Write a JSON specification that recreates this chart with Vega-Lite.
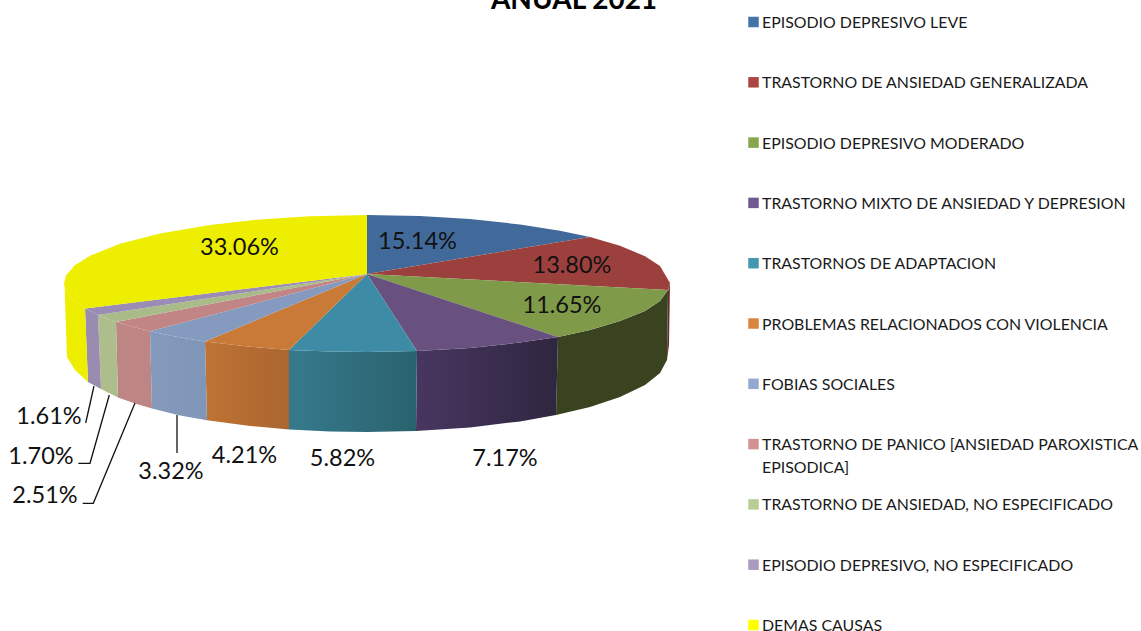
{
"$schema":"https://vega.github.io/schema/vega-lite/v6.json",
"width":1141,"height":631,"padding":0,"autosize":{"type":"none"},"background":"white",
"config":{"view":{"stroke":null}},
"datasets":{
"heading":[{"label":"ANUAL 2021","x":574,"y":9}],
"causes":[
{"name":"EPISODIO DEPRESIVO LEVE","share":0.1514,"lx":417.5,"ly":242},
{"name":"TRASTORNO DE ANSIEDAD GENERALIZADA","share":0.1380,"lx":572,"ly":266},
{"name":"EPISODIO DEPRESIVO MODERADO","share":0.1165,"lx":562,"ly":306},
{"name":"TRASTORNO MIXTO DE ANSIEDAD Y DEPRESION","share":0.0717,"lx":505,"ly":459},
{"name":"TRASTORNOS DE ADAPTACION","share":0.0582,"lx":342.5,"ly":459},
{"name":"PROBLEMAS RELACIONADOS CON VIOLENCIA","share":0.0421,"lx":244.5,"ly":456},
{"name":"FOBIAS SOCIALES","share":0.0332,"lx":171,"ly":472},
{"name":"TRASTORNO DE PANICO [ANSIEDAD PAROXISTICA\nEPISODICA]","share":0.0251,"lx":45,"ly":496},
{"name":"TRASTORNO DE ANSIEDAD, NO ESPECIFICADO","share":0.0170,"lx":41,"ly":457},
{"name":"EPISODIO DEPRESIVO, NO ESPECIFICADO","share":0.0161,"lx":49,"ly":417},
{"name":"DEMAS CAUSAS","share":0.3306,"lx":239.5,"ly":248}
],
"tops":[
{"slice":"leve","i":0,"x":367,"y":274},{"slice":"leve","i":1,"x":367,"y":215},{"slice":"leve","i":2,"x":420,"y":216.1},{"slice":"leve","i":3,"x":470,"y":219.1},{"slice":"leve","i":4,"x":520,"y":224.4},{"slice":"leve","i":5,"x":560,"y":230.7},{"slice":"leve","i":6,"x":590,"y":237},
{"slice":"generalizada","i":0,"x":367,"y":274},{"slice":"generalizada","i":1,"x":590,"y":237},{"slice":"generalizada","i":2,"x":620,"y":245.8},{"slice":"generalizada","i":3,"x":645,"y":256.2},{"slice":"generalizada","i":4,"x":660,"y":266},{"slice":"generalizada","i":5,"x":670,"y":283},{"slice":"generalizada","i":6,"x":668,"y":290},
{"slice":"moderado","i":0,"x":367,"y":274},{"slice":"moderado","i":1,"x":668,"y":290},{"slice":"moderado","i":2,"x":660,"y":301},{"slice":"moderado","i":3,"x":645,"y":311},{"slice":"moderado","i":4,"x":620,"y":321},{"slice":"moderado","i":5,"x":590,"y":330},{"slice":"moderado","i":6,"x":558,"y":337},
{"slice":"mixto","i":0,"x":367,"y":274},{"slice":"mixto","i":1,"x":558,"y":337},{"slice":"mixto","i":2,"x":520,"y":342.6},{"slice":"mixto","i":3,"x":470,"y":347.9},{"slice":"mixto","i":4,"x":417,"y":351},
{"slice":"adaptacion","i":0,"x":367,"y":274},{"slice":"adaptacion","i":1,"x":417,"y":351},{"slice":"adaptacion","i":2,"x":367,"y":352},{"slice":"adaptacion","i":3,"x":330,"y":351.5},{"slice":"adaptacion","i":4,"x":289,"y":350},
{"slice":"violencia","i":0,"x":367,"y":274},{"slice":"violencia","i":1,"x":289,"y":350},{"slice":"violencia","i":2,"x":250,"y":346.7},{"slice":"violencia","i":3,"x":205,"y":341.5},
{"slice":"fobias","i":0,"x":367,"y":274},{"slice":"fobias","i":1,"x":205,"y":341.5},{"slice":"fobias","i":2,"x":175,"y":336.5},{"slice":"fobias","i":3,"x":150,"y":331.3},
{"slice":"panico","i":0,"x":367,"y":274},{"slice":"panico","i":1,"x":150,"y":331.3},{"slice":"panico","i":2,"x":130,"y":326},{"slice":"panico","i":3,"x":116,"y":322},
{"slice":"ansiedad","i":0,"x":367,"y":274},{"slice":"ansiedad","i":1,"x":116,"y":322},{"slice":"ansiedad","i":2,"x":98,"y":315},
{"slice":"depresivo","i":0,"x":367,"y":274},{"slice":"depresivo","i":1,"x":98,"y":315},{"slice":"depresivo","i":2,"x":85,"y":308.5},
{"slice":"demas","i":0,"x":367,"y":274},{"slice":"demas","i":1,"x":85,"y":308.5},{"slice":"demas","i":2,"x":75,"y":301.8},{"slice":"demas","i":3,"x":66,"y":291.4},{"slice":"demas","i":4,"x":64,"y":283.5},{"slice":"demas","i":5,"x":66,"y":275.6},{"slice":"demas","i":6,"x":75,"y":265.2},{"slice":"demas","i":7,"x":90,"y":255.8},{"slice":"demas","i":8,"x":120,"y":243.8},{"slice":"demas","i":9,"x":160,"y":233.5},{"slice":"demas","i":10,"x":210,"y":224.9},{"slice":"demas","i":11,"x":260,"y":219.4},{"slice":"demas","i":12,"x":310,"y":216.2},{"slice":"demas","i":13,"x":367,"y":215}
],
"sides":[
{"slice":"generalizada","i":0,"x":670,"y":283},{"slice":"generalizada","i":1,"x":668,"y":291},{"slice":"generalizada","i":2,"x":667,"y":360},{"slice":"generalizada","i":3,"x":669,"y":345},
{"slice":"moderado","i":0,"x":668,"y":290},{"slice":"moderado","i":1,"x":660,"y":301},{"slice":"moderado","i":2,"x":645,"y":311},{"slice":"moderado","i":3,"x":620,"y":321},{"slice":"moderado","i":4,"x":590,"y":330},{"slice":"moderado","i":5,"x":558,"y":337},{"slice":"moderado","i":6,"x":556,"y":415},{"slice":"moderado","i":7,"x":590,"y":406.9},{"slice":"moderado","i":8,"x":620,"y":397},{"slice":"moderado","i":9,"x":645,"y":384.9},{"slice":"moderado","i":10,"x":660,"y":372.9},{"slice":"moderado","i":11,"x":667,"y":360},
{"slice":"mixto","i":0,"x":558,"y":337},{"slice":"mixto","i":1,"x":520,"y":342.6},{"slice":"mixto","i":2,"x":470,"y":347.9},{"slice":"mixto","i":3,"x":417,"y":351},{"slice":"mixto","i":4,"x":416,"y":431},{"slice":"mixto","i":5,"x":470,"y":427.4},{"slice":"mixto","i":6,"x":520,"y":421.4},{"slice":"mixto","i":7,"x":556,"y":415},
{"slice":"adaptacion","i":0,"x":417,"y":351},{"slice":"adaptacion","i":1,"x":367,"y":352},{"slice":"adaptacion","i":2,"x":330,"y":351.5},{"slice":"adaptacion","i":3,"x":289,"y":350},{"slice":"adaptacion","i":4,"x":289,"y":429.4},{"slice":"adaptacion","i":5,"x":330,"y":431.4},{"slice":"adaptacion","i":6,"x":367,"y":432},{"slice":"adaptacion","i":7,"x":416,"y":431},
{"slice":"violencia","i":0,"x":289,"y":350},{"slice":"violencia","i":1,"x":250,"y":346.7},{"slice":"violencia","i":2,"x":205,"y":341.5},{"slice":"violencia","i":3,"x":207,"y":420.3},{"slice":"violencia","i":4,"x":250,"y":426},{"slice":"violencia","i":5,"x":289,"y":429.4},
{"slice":"fobias","i":0,"x":205,"y":341.5},{"slice":"fobias","i":1,"x":175,"y":336.5},{"slice":"fobias","i":2,"x":150,"y":331.3},{"slice":"fobias","i":3,"x":152,"y":408.5},{"slice":"fobias","i":4,"x":180,"y":415.5},{"slice":"fobias","i":5,"x":207,"y":420.3},
{"slice":"panico","i":0,"x":150,"y":331.3},{"slice":"panico","i":1,"x":130,"y":326},{"slice":"panico","i":2,"x":116,"y":322},{"slice":"panico","i":3,"x":118,"y":397.5},{"slice":"panico","i":4,"x":135,"y":403.5},{"slice":"panico","i":5,"x":152,"y":408.5},
{"slice":"ansiedad","i":0,"x":116,"y":322},{"slice":"ansiedad","i":1,"x":98,"y":315},{"slice":"ansiedad","i":2,"x":101,"y":389},{"slice":"ansiedad","i":3,"x":118,"y":397.5},
{"slice":"depresivo","i":0,"x":98,"y":315},{"slice":"depresivo","i":1,"x":85,"y":308.5},{"slice":"depresivo","i":2,"x":88,"y":382},{"slice":"depresivo","i":3,"x":101,"y":389},
{"slice":"demas","i":0,"x":85,"y":308.5},{"slice":"demas","i":1,"x":75,"y":301.8},{"slice":"demas","i":2,"x":66,"y":291.4},{"slice":"demas","i":3,"x":64.5,"y":285},{"slice":"demas","i":4,"x":67,"y":357},{"slice":"demas","i":5,"x":75,"y":370},{"slice":"demas","i":6,"x":88,"y":382}
],
"leaders":[
{"share":"1.61%","i":0,"x":94,"y":386},{"share":"1.61%","i":1,"x":85.7,"y":423},
{"share":"1.70%","i":0,"x":109.3,"y":395},{"share":"1.70%","i":1,"x":90,"y":463.3},{"share":"1.70%","i":2,"x":78.3,"y":463.3},
{"share":"2.51%","i":0,"x":135,"y":403},{"share":"2.51%","i":1,"x":93.3,"y":503.3},{"share":"2.51%","i":2,"x":82.7,"y":503.3},
{"share":"3.32%","i":0,"x":177,"y":415},{"share":"3.32%","i":1,"x":177,"y":453}
]
},
"layer":[
{"data":{"name":"sides"},
"transform":[{"filter":{"field":"slice","oneOf":["generalizada","moderado","panico","ansiedad","depresivo","demas"]}}],
"mark":{"type":"line","filled":true},
"encoding":{
"x":{"field":"x","type":"quantitative","scale":{"domain":[0,1141],"range":[0,1141],"nice":false,"zero":false},"axis":null},
"y":{"field":"y","type":"quantitative","scale":{"domain":[0,631],"range":[0,631],"nice":false,"zero":false},"axis":null},
"order":{"field":"i"},
"detail":{"field":"slice"},
"fill":{"field":"slice","type":"nominal","legend":null,"scale":{"domain":["generalizada","moderado","panico","ansiedad","depresivo","demas"],"range":["#6a2c2a","#39431f","#bd8584","#aebd8c","#9a8cb0","#eeee00"]}}
}},
{"data":{"name":"sides"},
"transform":[{"filter":{"field":"slice","equal":"mixto"}}],
"mark":{"type":"line","filled":true,"fill":{"gradient":"linear","x1":0,"y1":0,"x2":1,"y2":0,"stops":[{"offset":0,"color":"#483660"},{"offset":1,"color":"#2f263f"}]}},
"encoding":{
"x":{"field":"x","type":"quantitative","scale":{"domain":[0,1141],"range":[0,1141],"nice":false,"zero":false},"axis":null},
"y":{"field":"y","type":"quantitative","scale":{"domain":[0,631],"range":[0,631],"nice":false,"zero":false},"axis":null},
"order":{"field":"i"}
}},
{"data":{"name":"sides"},
"transform":[{"filter":{"field":"slice","equal":"adaptacion"}}],
"mark":{"type":"line","filled":true,"fill":{"gradient":"linear","x1":0,"y1":0,"x2":1,"y2":0,"stops":[{"offset":0,"color":"#357a8c"},{"offset":1,"color":"#2a626e"}]}},
"encoding":{
"x":{"field":"x","type":"quantitative","scale":{"domain":[0,1141],"range":[0,1141],"nice":false,"zero":false},"axis":null},
"y":{"field":"y","type":"quantitative","scale":{"domain":[0,631],"range":[0,631],"nice":false,"zero":false},"axis":null},
"order":{"field":"i"}
}},
{"data":{"name":"sides"},
"transform":[{"filter":{"field":"slice","equal":"violencia"}}],
"mark":{"type":"line","filled":true,"fill":{"gradient":"linear","x1":0,"y1":0,"x2":1,"y2":0,"stops":[{"offset":0,"color":"#bf7434"},{"offset":1,"color":"#ab652f"}]}},
"encoding":{
"x":{"field":"x","type":"quantitative","scale":{"domain":[0,1141],"range":[0,1141],"nice":false,"zero":false},"axis":null},
"y":{"field":"y","type":"quantitative","scale":{"domain":[0,631],"range":[0,631],"nice":false,"zero":false},"axis":null},
"order":{"field":"i"}
}},
{"data":{"name":"sides"},
"transform":[{"filter":{"field":"slice","equal":"fobias"}}],
"mark":{"type":"line","filled":true,"fill":{"gradient":"linear","x1":0,"y1":0,"x2":1,"y2":0,"stops":[{"offset":0,"color":"#8499bb"},{"offset":1,"color":"#7f96b8"}]}},
"encoding":{
"x":{"field":"x","type":"quantitative","scale":{"domain":[0,1141],"range":[0,1141],"nice":false,"zero":false},"axis":null},
"y":{"field":"y","type":"quantitative","scale":{"domain":[0,631],"range":[0,631],"nice":false,"zero":false},"axis":null},
"order":{"field":"i"}
}},
{"data":{"name":"tops"},
"mark":{"type":"line","filled":true},
"encoding":{
"x":{"field":"x","type":"quantitative","scale":{"domain":[0,1141],"range":[0,1141],"nice":false,"zero":false},"axis":null},
"y":{"field":"y","type":"quantitative","scale":{"domain":[0,631],"range":[0,631],"nice":false,"zero":false},"axis":null},
"order":{"field":"i"},
"detail":{"field":"slice"},
"fill":{"field":"slice","type":"nominal","legend":null,"scale":{"domain":["leve","generalizada","moderado","mixto","adaptacion","violencia","fobias","panico","ansiedad","depresivo","demas"],"range":["#416a9b","#9c403e","#7f9a48","#68507f","#3e8ba6","#c97a36","#849bbf","#c08584","#aabb8a","#9a8cb3","#eeee00"]}}
}},
{"data":{"name":"leaders"},
"mark":{"type":"line","color":"#111111","strokeWidth":1.3},
"encoding":{
"x":{"field":"x","type":"quantitative","scale":{"domain":[0,1141],"range":[0,1141],"nice":false,"zero":false},"axis":null},
"y":{"field":"y","type":"quantitative","scale":{"domain":[0,631],"range":[0,631],"nice":false,"zero":false},"axis":null},
"order":{"field":"i"},
"detail":{"field":"share"}
}},
{"data":{"name":"causes"},
"mark":{"type":"text","font":"Lato","fontSize":23.5,"color":"#111111","align":"center","baseline":"middle"},
"encoding":{
"x":{"field":"lx","type":"quantitative","scale":{"domain":[0,1141],"range":[0,1141],"nice":false,"zero":false},"axis":null},
"y":{"field":"ly","type":"quantitative","scale":{"domain":[0,631],"range":[0,631],"nice":false,"zero":false},"axis":null},
"text":{"field":"share","type":"quantitative","format":".2%"}
}},
{"data":{"name":"heading"},
"mark":{"type":"text","font":"Lato","fontSize":28,"fontWeight":"bold","color":"#000000","align":"center","baseline":"alphabetic"},
"encoding":{
"x":{"field":"x","type":"quantitative","scale":{"domain":[0,1141],"range":[0,1141],"nice":false,"zero":false},"axis":null},
"y":{"field":"y","type":"quantitative","scale":{"domain":[0,631],"range":[0,631],"nice":false,"zero":false},"axis":null},
"text":{"field":"label","type":"nominal"}
}},
{"data":{"name":"causes"},
"mark":{"type":"point","shape":"square","filled":true,"size":110,"opacity":1},
"encoding":{
"x":{"value":753.5},
"y":{"field":"name","type":"nominal","sort":null,"axis":null,"scale":{"type":"point","range":[22,625],"padding":0}},
"color":{"field":"name","type":"nominal","sort":null,"legend":null,"scale":{"range":["#4572a7","#aa4643","#89a54e","#71588f","#4198af","#db843d","#93a9cf","#d19392","#b9cd96","#a99bbd","#ffff00"]}}
}},
{"data":{"name":"causes"},
"mark":{"type":"text","font":"Lato","fontSize":15.9,"color":"#1a1a1a","align":"left","baseline":"middle","lineBreak":"\n","lineHeight":23,"dy":1},
"encoding":{
"x":{"value":762},
"y":{"field":"name","type":"nominal","sort":null,"axis":null,"scale":{"type":"point","range":[22,625],"padding":0}},
"text":{"field":"name","type":"nominal"}
}}
],
"resolve":{"scale":{"x":"independent","y":"independent","fill":"independent","color":"independent"}}
}
